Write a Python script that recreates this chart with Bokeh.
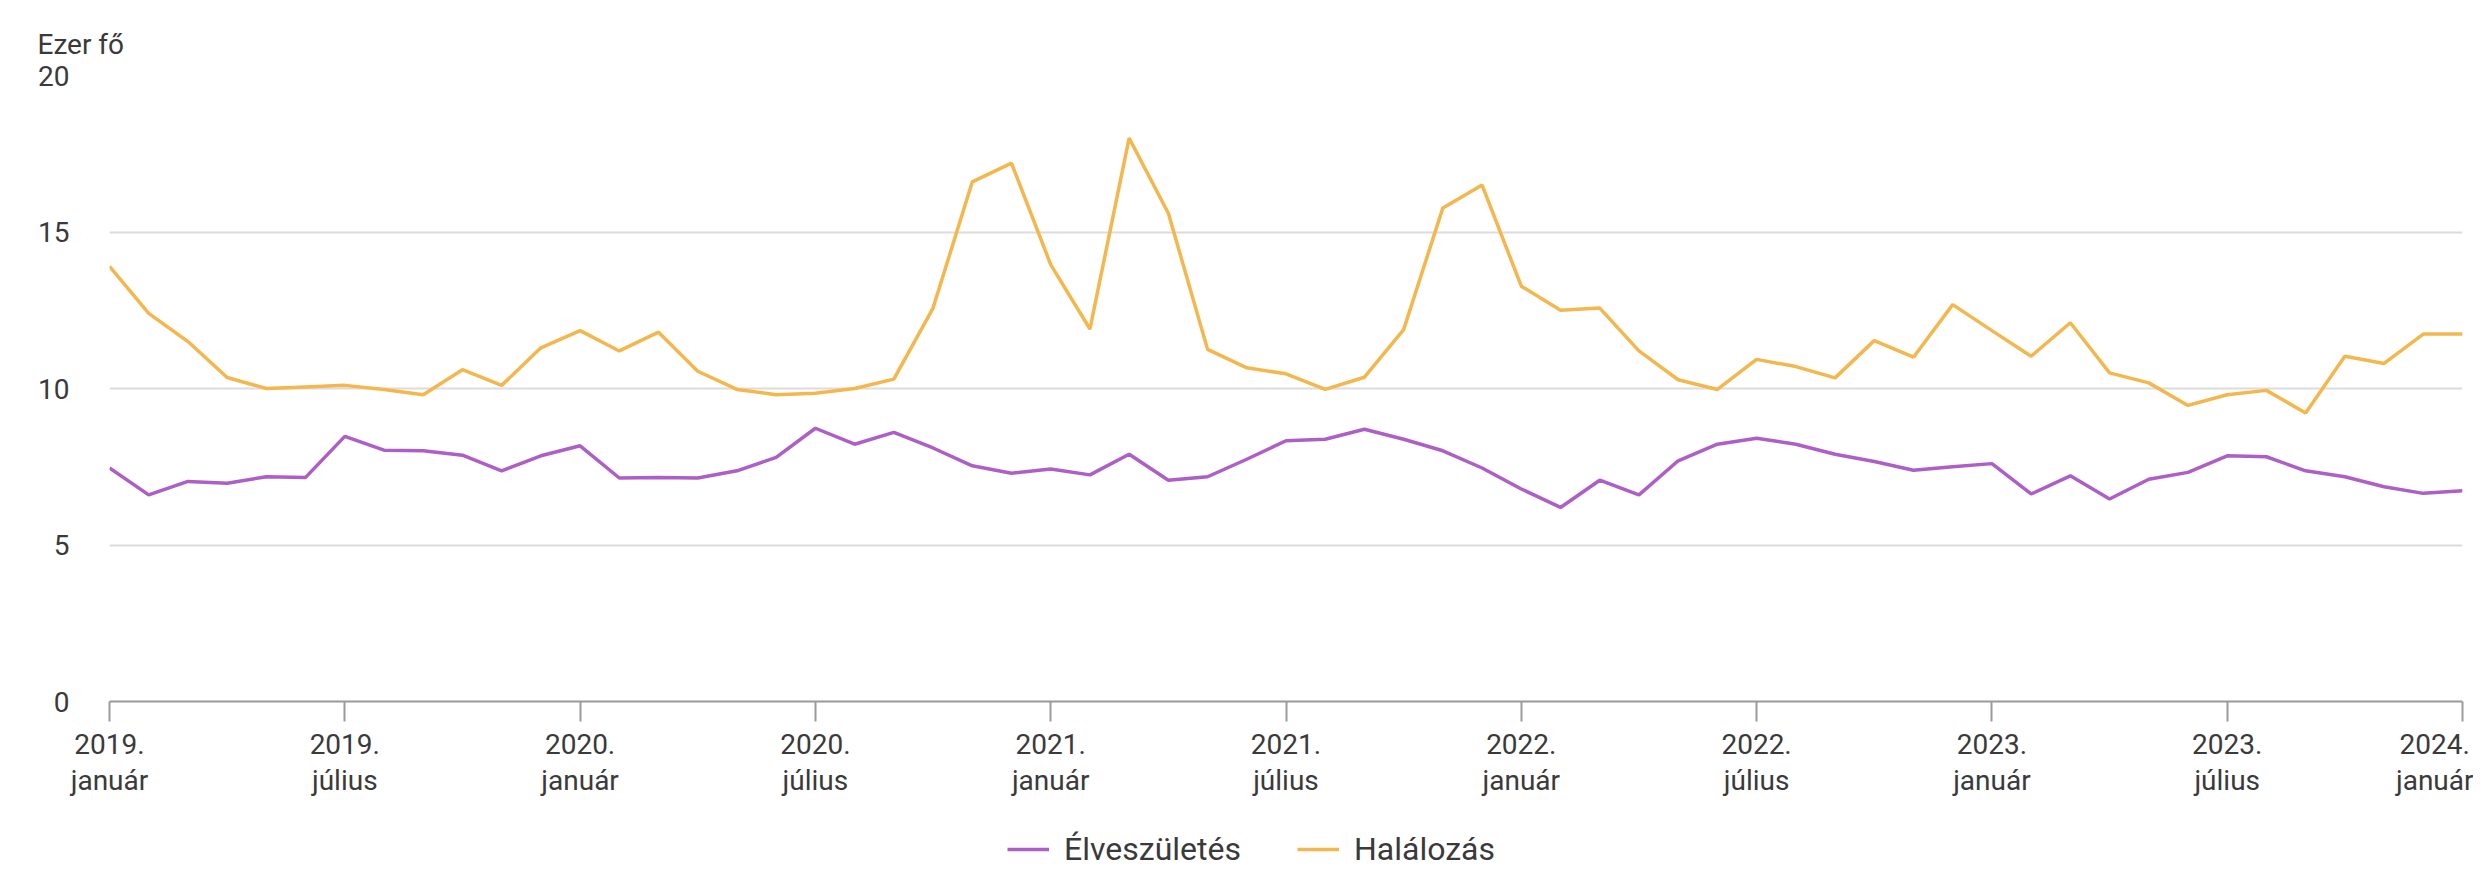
from bokeh.plotting import figure
from bokeh.layouts import column
from bokeh.models import Range1d, FixedTicker, Legend, LegendItem, ColumnDataSource
from bokeh.embed import file_html
from bokeh.resources import INLINE

# ---- data (thousand persons, monthly, 2019 Jan .. 2024 Jan) ----
month_index = list(range(61))
halalozas = [13.9, 12.4, 11.5, 10.35, 10.0, 10.05, 10.1, 9.97, 9.8, 10.6,
             10.1, 11.3, 11.85, 11.2, 11.8, 10.55, 9.97, 9.8, 9.85, 10.0,
             10.3, 12.57, 16.6, 17.2, 13.96, 11.9, 18.0, 15.6, 11.25, 10.66,
             10.47, 9.97, 10.36, 11.88, 15.77, 16.5, 13.27, 12.5, 12.57, 11.2,
             10.28, 9.97, 10.93, 10.7, 10.34, 11.53, 11.0, 12.68, 11.85, 11.03,
             12.1, 10.5, 10.18, 9.46, 9.8, 9.94, 9.22, 11.03, 10.8, 11.74,
             11.74]
elveszuletes = [7.46, 6.6, 7.03, 6.97, 7.18, 7.16, 8.47, 8.03, 8.01, 7.87,
                7.37, 7.85, 8.17, 7.14, 7.16, 7.14, 7.37, 7.8, 8.73, 8.22,
                8.6, 8.1, 7.53, 7.29, 7.43, 7.24, 7.9, 7.07, 7.18, 7.74,
                8.33, 8.38, 8.7, 8.38, 8.01, 7.46, 6.79, 6.2, 7.07, 6.6,
                7.69, 8.22, 8.41, 8.22, 7.9, 7.67, 7.39, 7.5, 7.6, 6.63,
                7.21, 6.47, 7.1, 7.32, 7.85, 7.82, 7.37, 7.18, 6.86, 6.65,
                6.73]
tick_positions = [0, 6, 12, 18, 24, 30, 36, 42, 48, 54, 60]
tick_years = ["2019.", "2019.", "2020.", "2020.", "2021.", "2021.",
              "2022.", "2022.", "2023.", "2023.", "2024."]
tick_months = ["január", "július", "január", "július", "január", "július",
               "január", "július", "január", "július", "január"]
y_ticks = [0, 5, 10, 15, 20]
series_names = ["Élveszületés", "Halálozás"]
series_colors = ["#ad5fc7", "#f3b74d"]
y_unit = "Ezer fő"

FONT = "Roboto"
TXT = "#3a3a3a"

src = ColumnDataSource(dict(m=month_index, hal=halalozas, elv=elveszuletes))

p = figure(width=2473, height=824,
           x_range=Range1d(0, 60), y_range=Range1d(0, 20),
           output_backend="svg", toolbar_location=None,
           min_border_left=109, min_border_right=11,
           min_border_top=75, min_border_bottom=123)
p.outline_line_color = None
p.background_fill_color = "white"
p.border_fill_color = "white"

# title used as the unit label
p.title.text = y_unit
p.title.align = "left"
p.title.offset = -72
p.title.text_font = FONT
p.title.text_font_size = "28px"
p.title.text_font_style = "normal"
p.title.text_color = TXT
p.title.standoff = 30

# grid
p.xgrid.grid_line_color = None
p.ygrid.grid_line_color = "#dcdcdc"
p.ygrid.grid_line_width = 2

# y axis
p.yaxis.ticker = FixedTicker(ticks=y_ticks)
p.yaxis.axis_line_color = None
p.yaxis.major_tick_line_color = None
p.yaxis.minor_tick_line_color = None
p.yaxis.major_tick_out = 0
p.yaxis.major_tick_in = 0
p.yaxis.major_label_standoff = 40
p.yaxis.major_label_text_font = FONT
p.yaxis.major_label_text_font_size = "28px"
p.yaxis.major_label_text_color = TXT

# x axis
p.xaxis.ticker = FixedTicker(ticks=tick_positions)
p.xaxis.major_label_overrides = {t: f"{y}\n{m}" for t, y, m in zip(tick_positions, tick_years, tick_months)}
p.xaxis.axis_line_color = "#9a9a9a"
p.xaxis.axis_line_width = 2
p.xaxis.major_tick_line_color = "#9a9a9a"
p.xaxis.major_tick_line_width = 2
p.xaxis.major_tick_out = 20
p.xaxis.major_tick_in = 0
p.xaxis.minor_tick_line_color = None
p.xaxis.major_label_standoff = 6
p.xaxis.major_label_text_font = FONT
p.xaxis.major_label_text_font_size = "28px"
p.xaxis.major_label_text_color = TXT
p.xaxis.major_label_text_line_height = 1.1

p.line("m", "elv", source=src, line_color=series_colors[0], line_width=3.5)
p.line("m", "hal", source=src, line_color=series_colors[1], line_width=3.5)

# ---- legend strip below the chart (its renderers fall outside the strip's ranges) ----
pl = figure(width=2473, height=46, x_range=Range1d(-1, 0), y_range=Range1d(-1, 0),
            output_backend="svg", toolbar_location=None,
            x_axis_location=None, y_axis_location=None, min_border=0)
pl.outline_line_color = None
pl.xgrid.grid_line_color = None
pl.ygrid.grid_line_color = None
pl.border_fill_color = "white"
pl.background_fill_color = "white"
leg_r = [pl.line("m", col, source=src, line_color=c, line_width=3.5)
         for col, c in zip(["elv", "hal"], series_colors)]
legend = Legend(items=[LegendItem(label=n, renderers=[r]) for n, r in zip(series_names, leg_r)],
                orientation="horizontal", location=(898, 2),
                glyph_width=42, glyph_height=30, label_standoff=15, spacing=56,
                label_text_font=FONT, label_text_font_size="32px",
                label_text_color=TXT, border_line_color=None,
                background_fill_alpha=0, padding=0, margin=0)
pl.add_layout(legend, "center")

layout = column(p, pl, spacing=0)
open("out.html", "w").write(file_html(layout, INLINE))
